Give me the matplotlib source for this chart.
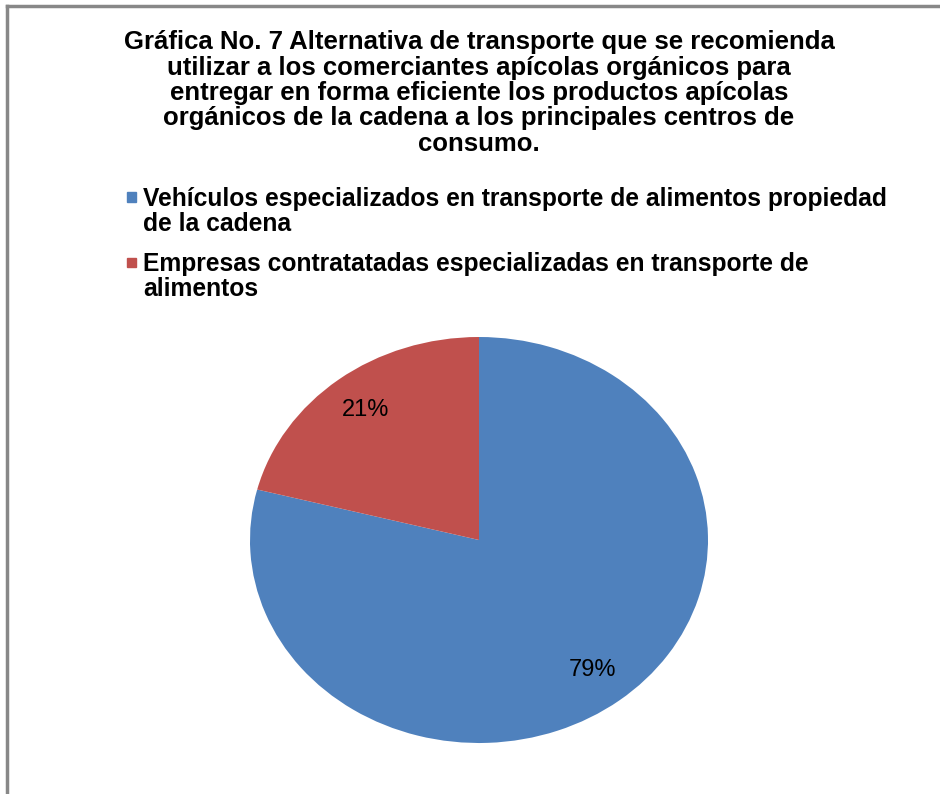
import matplotlib.pyplot as plt
from matplotlib.patches import Rectangle
from matplotlib.lines import Line2D

# data
labels = ['Vehículos especializados en transporte de alimentos propiedad\nde la cadena',
          'Empresas contratatadas especializadas en transporte de\nalimentos']
shares = [79, 21]
colors = ['#4F81BD', '#C0504D']
title = ('Gráfica No. 7 Alternativa de transporte que se recomienda\n'
         'utilizar a los comerciantes apícolas orgánicos para\n'
         'entregar en forma eficiente los productos apícolas\n'
         'orgánicos de la cadena a los principales centros de\n'
         'consumo.')

W, H = 940, 794
plt.rcParams['font.family'] = ['Liberation Sans', 'DejaVu Sans']
fig = plt.figure(figsize=(W / 100, H / 100), dpi=100)

# pie is drawn as an ellipse, axes box = ellipse bounding box
cx, cy, rx, ry = 479, 540, 229, 203
ax = fig.add_axes([(cx - rx) / W, (H - cy - ry) / H, 2 * rx / W, 2 * ry / H])
wedges, texts, autotexts = ax.pie(shares, colors=colors, startangle=90, counterclock=False,
                                  autopct='%1.0f%%', pctdistance=0.81,
                                  textprops={'fontsize': 17, 'color': 'black'})
ax.set_aspect('auto')
ax.set_xlim(-1, 1)
ax.set_ylim(-1, 1)

# border of the chart area (only top and left are visible in the crop)
fig.add_artist(Line2D([7 / W, 7 / W], [0, 1 - 6 / H], color='#888888', lw=2.5))
fig.add_artist(Line2D([7 / W, 1], [1 - 6 / H, 1 - 6 / H], color='#888888', lw=2.5))

fig.text(479 / W, 1 - 93 / H, title, ha='center', va='center', fontsize=18.5,
         fontweight='bold', linespacing=1.07)

# legend entries
for i, (lab, col) in enumerate(zip(labels, colors)):
    yc = 211.5 + i * 65
    fig.add_artist(Rectangle((126.5 / W, 1 - (yc - 10) / H), 9 / W, 9 / H, color=col))
    fig.text(143 / W, 1 - yc / H, lab, ha='left', va='center', fontsize=17.7,
             fontweight='bold', linespacing=1.1)

fig.savefig('out.png', dpi=100)
